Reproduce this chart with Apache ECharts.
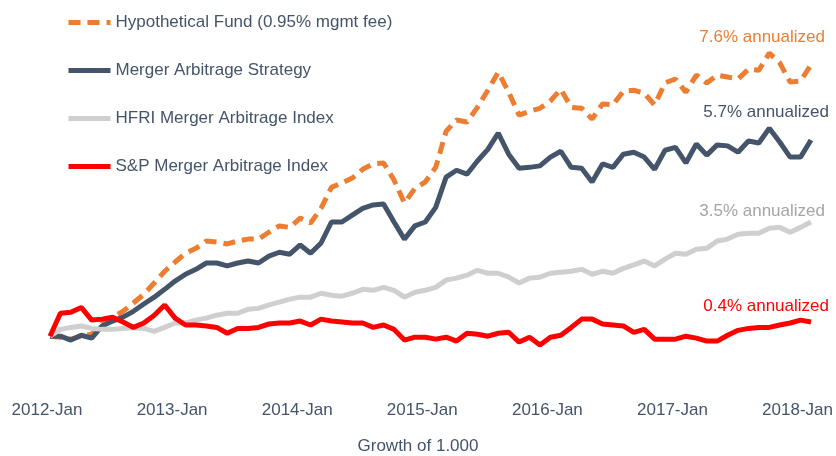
<!DOCTYPE html>
<html>
<head>
<meta charset="utf-8">
<script src="https://cdn.jsdelivr.net/npm/echarts@6/dist/echarts.min.js"></script>
<style>
html,body{margin:0;padding:0;background:#fff;}
#main{width:836px;height:456px;}
</style>
</head>
<body>
<div id="main"></div>
<script>
'use strict';
// monthly, 2012-Jan .. 2018-Feb, growth of 1000
var months = ['Jan','Feb','Mar','Apr','May','Jun','Jul','Aug','Sep','Oct','Nov','Dec'];
var categories = [];
for (var y = 2012; y <= 2018; y++) {
	for (var m = 0; m < 12; m++) {
		if (y === 2018 && m > 1) break;
		categories.push(y + '-' + months[m]);
	}
}

var fundValues = [1000,998,994,1000,1004,1029,1039,1051,1068,1086,1109,1133,
	1152,1170,1180,1195,1193,1189,1195,1199,1199,1213,1226,1223,
	1242,1232,1262,1305,1314,1324,1342,1353,1355,1320,1273,1303,
	1316,1346,1420,1443,1439,1469,1504,1541,1500,1453,1461,1467,
	1482,1506,1469,1467,1445,1476,1474,1502,1504,1498,1474,1519,
	1527,1500,1535,1519,1535,1531,1527,1547,1545,1580,1560,1521,
	1523,1556];
var strategyValues = [1000,1000,992,1002,996,1021,1031,1039,1051,1066,1080,1096,
	1113,1127,1137,1150,1150,1144,1150,1154,1150,1164,1172,1168,
	1187,1170,1191,1234,1234,1248,1262,1269,1271,1234,1199,1226,
	1234,1264,1326,1340,1332,1359,1383,1416,1373,1344,1346,1349,
	1367,1379,1346,1344,1316,1353,1346,1373,1377,1367,1342,1381,
	1387,1355,1394,1371,1392,1390,1377,1400,1396,1426,1398,1367,
	1367,1402];
var hfriValues = [1000,1014,1018,1021,1016,1014,1014,1016,1018,1016,1010,1018,
	1027,1027,1033,1037,1043,1047,1047,1055,1057,1064,1070,1076,
	1080,1080,1088,1084,1082,1088,1096,1094,1100,1094,1080,1090,
	1094,1100,1115,1119,1125,1135,1129,1129,1121,1109,1119,1121,
	1129,1131,1133,1137,1127,1133,1129,1139,1146,1154,1144,1158,
	1170,1168,1178,1180,1195,1199,1209,1211,1211,1221,1223,1213,
	1223,1234];
var spValues = [1000,1047,1049,1059,1033,1035,1039,1029,1018,1027,1043,1064,
	1037,1023,1023,1021,1018,1006,1016,1016,1018,1025,1027,1027,
	1031,1023,1035,1031,1029,1027,1027,1018,1023,1014,992,998,
	998,994,998,990,1006,1004,1000,1006,1008,988,998,982,
	998,1002,1018,1035,1035,1025,1023,1021,1008,1014,994,994,
	994,1000,996,990,990,1002,1012,1016,1018,1018,1023,1027,
	1033,1029];

var seriesNames = ['Hypothetical Fund (0.95% mgmt fee)', 'Merger Arbitrage Strategy',
	'HFRI Merger Arbitrage Index', 'S&P Merger Arbitrage Index'];
var endLabels = ['7.6% annualized', '5.7% annualized', '3.5% annualized', '0.4% annualized'];

var FONT = "'Liberation Sans', Arial, sans-serif";
var TEXT = '#44546a';
var colors = ['#ed7d31', '#44546a', '#d0cece', '#ff0000'];
var labelColors = ['#ed7d31', '#44546a', '#a5a5a5', '#ff0000'];
var labelOffsets = [[14, -28], [18, -28], [14, -11], [18, -16]];

function lineSeries(idx, data, dashed) {
	var last = data.length - 1;
	return {
		name: seriesNames[idx],
		type: 'line',
		data: data,
		symbol: 'none',
		showSymbol: false,
		silent: true,
		lineStyle: {
			color: colors[idx],
			width: 5,
			type: dashed ? [12, 7] : 'solid'
		},
		itemStyle: {color: colors[idx]},
		markPoint: {
			symbol: 'circle',
			symbolSize: 0,
			silent: true,
			data: [{coord: [last, data[last]]}],
			label: {
				show: true,
				position: 'inside',
				align: 'right',
				verticalAlign: 'middle',
				offset: labelOffsets[idx],
				formatter: endLabels[idx],
				color: labelColors[idx],
				fontFamily: FONT,
				fontSize: 17
			}
		}
	};
}

var chart = echarts.init(document.getElementById('main'));
chart.setOption({
	animation: false,
	backgroundColor: '#fff',
	title: {
		text: 'Growth of 1.000',
		left: 'center',
		top: 438,
		padding: 0,
		textStyle: {color: TEXT, fontFamily: FONT, fontSize: 17, fontWeight: 'normal'}
	},
	legend: {
		orient: 'vertical',
		left: 66,
		top: 14,
		padding: 0,
		itemWidth: 42,
		itemHeight: 5,
		itemGap: 31,
		lineStyle: {width: 5},
		textStyle: {color: TEXT, fontFamily: FONT, fontSize: 17},
		data: seriesNames
	},
	grid: {left: 50, right: 25, top: 19, bottom: 71},
	xAxis: {
		type: 'category',
		data: categories,
		boundaryGap: false,
		axisLine: {show: false},
		axisTick: {show: false},
		splitLine: {show: false},
		axisLabel: {
			interval: 11,
			margin: 17,
			padding: [0, 6, 0, 0],
			color: TEXT,
			fontFamily: FONT,
			fontSize: 17
		}
	},
	yAxis: {
		type: 'value',
		min: 900,
		max: 1650,
		show: false,
		splitLine: {show: false}
	},
	series: [
		lineSeries(0, fundValues, true),
		lineSeries(1, strategyValues, false),
		lineSeries(2, hfriValues, false),
		lineSeries(3, spValues, false)
	]
});
</script>
</body>
</html>
